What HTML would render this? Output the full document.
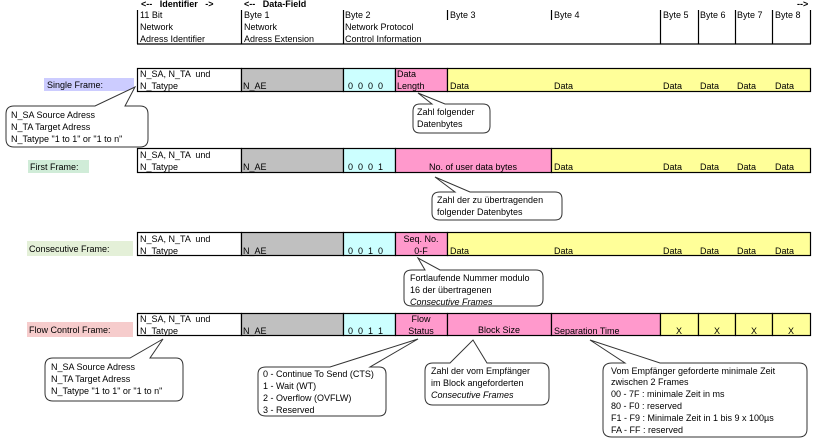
<!DOCTYPE html>
<html><head><meta charset="utf-8"><style>
body{margin:0;background:#fff;}
svg{display:block;font-family:"Liberation Sans",Arial,sans-serif;font-size:9px;}
svg text{white-space:pre;}
</style></head><body>
<svg width="818" height="439" viewBox="0 0 818 439" xmlns="http://www.w3.org/2000/svg">
<text x="141" y="7" font-weight="bold" font-size="9">&lt;--   Identifier   -&gt;</text>
<text x="244" y="7" font-weight="bold" font-size="9">&lt;--   Data-Field</text>
<text x="797" y="7" font-weight="bold" font-size="9">--&gt;</text>
<g stroke="#000" stroke-width="1.2">
<line x1="137" y1="44" x2="811" y2="44"/>
<line x1="137.5" y1="10" x2="137.5" y2="44"/>
<line x1="241.5" y1="10" x2="241.5" y2="44"/>
<line x1="343.5" y1="10" x2="343.5" y2="44"/>
<line x1="447.5" y1="10" x2="447.5" y2="20"/>
<line x1="551.5" y1="10" x2="551.5" y2="20"/>
<line x1="660.5" y1="10" x2="660.5" y2="44"/>
<line x1="698.5" y1="10" x2="698.5" y2="44"/>
<line x1="735.5" y1="10" x2="735.5" y2="44"/>
<line x1="772.5" y1="10" x2="772.5" y2="44"/>
<line x1="810.5" y1="10" x2="810.5" y2="44"/>
</g>
<g fill="#000">
<text x="140" y="18">11 Bit</text><text x="140" y="30">Network</text><text x="140" y="42">Adress Identifier</text>
<text x="244" y="18">Byte 1</text><text x="244" y="30">Network</text><text x="244" y="42">Adress Extension</text>
<text x="345" y="18">Byte 2</text><text x="345" y="30">Network Protocol</text><text x="345" y="42">Control Information</text>
<text x="450" y="18">Byte 3</text><text x="554" y="18">Byte 4</text>
<text x="663" y="18">Byte 5</text><text x="700" y="18">Byte 6</text><text x="737" y="18">Byte 7</text><text x="775" y="18">Byte 8</text>
</g>

<rect x="44" y="78" width="90" height="13" fill="#ccccff"/>
<text x="47" y="88">Single Frame:</text>
<g stroke="#000" stroke-width="1.2">
<rect x="137.5" y="68.5" width="104" height="23" fill="#fff"/>
<rect x="241.5" y="68.5" width="102" height="23" fill="#c0c0c0"/>
<rect x="343.5" y="68.5" width="52" height="23" fill="#ccffff"/>
<rect x="395.5" y="68.5" width="52" height="23" fill="#ff99cc"/>
<rect x="447.5" y="68.5" width="363" height="23" fill="#ffff99"/>
</g>
<text x="140" y="77">N_SA, N_TA  und</text><text x="140" y="89">N_Tatype</text>
<text x="243" y="89">N_AE</text>
<text x="348" y="89">0  0  0  0</text>
<text x="397" y="77">Data</text><text x="397" y="89">Length</text>
<text x="450" y="89">Data</text><text x="554" y="89">Data</text><text x="663" y="89">Data</text><text x="700" y="89">Data</text><text x="737" y="89">Data</text><text x="775" y="89">Data</text>

<rect x="28" y="160" width="61" height="13" fill="#d0ecd8"/>
<text x="30" y="170">First Frame:</text>
<g stroke="#000" stroke-width="1.2">
<rect x="137.5" y="148.5" width="104" height="24" fill="#fff"/>
<rect x="241.5" y="148.5" width="102" height="24" fill="#c0c0c0"/>
<rect x="343.5" y="148.5" width="52" height="24" fill="#ccffff"/>
<rect x="395.5" y="148.5" width="156" height="24" fill="#ff99cc"/>
<rect x="551.5" y="148.5" width="259" height="24" fill="#ffff99"/>
</g>
<text x="140" y="158">N_SA, N_TA  und</text><text x="140" y="170">N_Tatype</text>
<text x="243" y="170">N_AE</text>
<text x="348" y="170">0  0  0  1</text>
<text x="473" y="170" text-anchor="middle">No. of user data bytes</text>
<text x="554" y="170">Data</text><text x="663" y="170">Data</text><text x="700" y="170">Data</text><text x="737" y="170">Data</text><text x="775" y="170">Data</text>

<rect x="27" y="241" width="106" height="15" fill="#e4f0d8"/>
<text x="29" y="252">Consecutive Frame:</text>
<g stroke="#000" stroke-width="1.2">
<rect x="137.5" y="232.5" width="104" height="23" fill="#fff"/>
<rect x="241.5" y="232.5" width="102" height="23" fill="#c0c0c0"/>
<rect x="343.5" y="232.5" width="52" height="23" fill="#ccffff"/>
<rect x="395.5" y="232.5" width="52" height="23" fill="#ff99cc"/>
<rect x="447.5" y="232.5" width="363" height="23" fill="#ffff99"/>
</g>
<text x="140" y="242">N_SA, N_TA  und</text><text x="140" y="254">N_Tatype</text>
<text x="243" y="254">N_AE</text>
<text x="348" y="254">0  0  1  0</text>
<text x="421" y="242" text-anchor="middle">Seq. No.</text><text x="421" y="254" text-anchor="middle">0-F</text>
<text x="450" y="254">Data</text><text x="554" y="254">Data</text><text x="663" y="254">Data</text><text x="700" y="254">Data</text><text x="737" y="254">Data</text><text x="775" y="254">Data</text>

<rect x="27" y="322" width="106" height="15" fill="#f6cccc"/>
<text x="29" y="333">Flow Control Frame:</text>
<g stroke="#000" stroke-width="1.2">
<rect x="137.5" y="313.5" width="104" height="22" fill="#fff"/>
<rect x="241.5" y="313.5" width="102" height="22" fill="#c0c0c0"/>
<rect x="343.5" y="313.5" width="52" height="22" fill="#ccffff"/>
<rect x="395.5" y="313.5" width="52" height="22" fill="#ff99cc"/>
<rect x="447.5" y="313.5" width="104" height="22" fill="#ff99cc"/>
<rect x="551.5" y="313.5" width="109" height="22" fill="#ff99cc"/>
<rect x="660.5" y="313.5" width="38" height="22" fill="#ffff99"/>
<rect x="698.5" y="313.5" width="37" height="22" fill="#ffff99"/>
<rect x="735.5" y="313.5" width="37" height="22" fill="#ffff99"/>
<rect x="772.5" y="313.5" width="38" height="22" fill="#ffff99"/>
</g>
<text x="140" y="322">N_SA, N_TA  und</text><text x="140" y="334">N_Tatype</text>
<text x="243" y="334">N_AE</text>
<text x="348" y="334">0  0  1  1</text>
<text x="421" y="322" text-anchor="middle">Flow</text><text x="421" y="334" text-anchor="middle">Status</text>
<text x="499" y="333" text-anchor="middle">Block Size</text>
<text x="554" y="334">Separation Time</text>
<text x="679" y="334" text-anchor="middle">X</text><text x="717" y="334" text-anchor="middle">X</text><text x="754" y="334" text-anchor="middle">X</text><text x="791" y="334" text-anchor="middle">X</text>

<g fill="#fff" stroke="#333" stroke-width="1">
<path d="M14,106 H95 L135,87 L125,106 H140 Q148,106 148,114 V139 Q148,147 140,147 H14 Q6,147 6,139 V114 Q6,106 14,106 Z"/>
<path d="M420,104 H432 L418,93 L445,104 H483 Q490,104 490,111 V126 Q490,133 483,133 H420 Q413,133 413,126 V111 Q413,104 420,104 Z"/>
<path d="M440,192 H455 L435,177 L470,192 H555 Q562,192 562,199 V213 Q562,220 555,220 H440 Q432,220 432,213 V199 Q432,192 440,192 Z"/>
<path d="M412,270 H425 L418,258 L440,270 H536 Q543,270 543,277 V299 Q543,306 536,306 H412 Q404,306 404,299 V277 Q404,270 412,270 Z"/>
<path d="M53,358 H130 L163,339 L150,358 H176 Q183,358 183,366 V393 Q183,401 176,401 H53 Q45,401 45,393 V366 Q45,358 53,358 Z"/>
<path d="M266,367 H330 L418,339 L370,367 H379 Q386,367 386,374 V409 Q386,416 379,416 H266 Q258,416 258,409 V374 Q258,367 266,367 Z"/>
<path d="M433,363 H450 L473,340 L487,363 H541 Q549,363 549,371 V397 Q549,405 541,405 H433 Q425,405 425,397 V371 Q425,363 433,363 Z"/>
<path d="M612,363 H625 L590,340 L660,363 H799 Q807,363 807,371 V429 Q807,437 799,437 H612 Q603,437 603,429 V371 Q603,363 612,363 Z"/>
</g>
<g fill="#000">
<text x="11" y="118">N_SA Source Adress</text><text x="11" y="130">N_TA Target Adress</text><text x="11" y="142">N_Tatype "1 to 1" or "1 to n"</text>
<text x="417" y="115">Zahl folgender</text><text x="417" y="127">Datenbytes</text>
<text x="437" y="203">Zahl der zu übertragenden</text><text x="437" y="215">folgender Datenbytes</text>
<text x="410" y="281">Fortlaufende Nummer modulo</text><text x="410" y="293">16 der übertragenen</text><text x="410" y="305" font-style="italic">Consecutive Frames</text>
<text x="51" y="370">N_SA Source Adress</text><text x="51" y="382">N_TA Target Adress</text><text x="51" y="394">N_Tatype "1 to 1" or "1 to n"</text>
<text x="263" y="377">0 - Continue To Send (CTS)</text><text x="263" y="389">1 - Wait (WT)</text><text x="263" y="401">2 - Overflow (OVFLW)</text><text x="263" y="413">3 - Reserved</text>
<text x="431" y="374">Zahl der vom Empfänger</text><text x="431" y="386">im Block angeforderten</text><text x="431" y="398" font-style="italic">Consecutive Frames</text>
<text x="611" y="374">Vom Empfänger geforderte minimale Zeit</text><text x="611" y="385">zwischen 2 Frames</text><text x="611" y="397">00 - 7F : minimale Zeit in ms</text><text x="611" y="409">80 - F0 : reserved</text><text x="611" y="421">F1 - F9 : Minimale Zeit in 1 bis 9 x 100µs</text><text x="611" y="433">FA - FF : reserved</text>
</g>
</svg>
</body></html>
